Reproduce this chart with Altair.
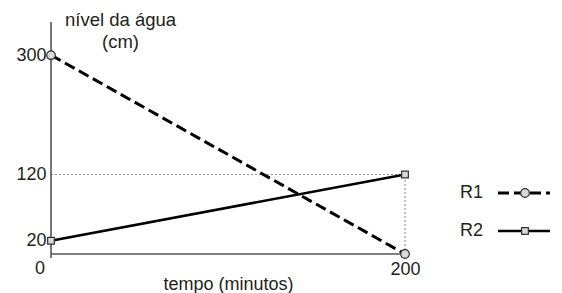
import altair as alt
import pandas as pd

# ---- data ----
times = [0, 200]
r1_values = [300, 0]
r2_values = [20, 120]
series = ["R1", "R2"]
y_tick_values = [20, 120, 300]
x_tick_values = [200]
x_title = "tempo (minutos)"
y_title = ["nível da água", "(cm)"]

FONT = "Liberation Sans"
TXT = "#231f20"
AXIS = "#555555"

df = pd.DataFrame({
    "t": times + times,
    "v": r1_values + r2_values,
    "s": [series[0]] * len(times) + [series[1]] * len(times),
})
guide_h = pd.DataFrame({"x0": [times[0]], "x1": [times[-1]], "y": [r2_values[-1]]})
guide_v = pd.DataFrame({"x": [times[-1]], "y0": [0], "y1": [r2_values[-1]]})
origin = pd.DataFrame({"t": [0], "v": [0], "lab": ["0"]})

W, H = 354, 232
xs = alt.Scale(domain=[0, 200], nice=False, zero=False)
ys = alt.Scale(domain=[0, 350], nice=False)

x_axis = alt.Axis(values=x_tick_values, domain=False, ticks=False, grid=False,
                  labelFontSize=18, labelFont=FONT, labelColor=TXT, labelPadding=6,
                  labelFlush=False, labelOverlap=False,
                  title=x_title, titleFont=FONT, titleFontSize=18, titleColor=TXT,
                  titleFontWeight="normal", titlePadding=-3)
y_axis = alt.Axis(values=y_tick_values, domain=False, ticks=False, grid=False,
                  labelFontSize=18, labelFont=FONT, labelColor=TXT, labelPadding=5,
                  labelFlush=False, labelOverlap=False,
                  title=y_title, titleFont=FONT, titleFontSize=18.5, titleColor=TXT,
                  titleFontWeight="normal", titleAngle=0, titleAlign="center",
                  titleBaseline="alphabetic", titleX=69, titleY=3, titleLineHeight=22)

base = alt.Chart(df)

gh = alt.Chart(guide_h).mark_rule(color="#8a8a8a", strokeWidth=1, strokeDash=[2, 2]).encode(
    x=alt.X("x0:Q", scale=xs, axis=x_axis), x2="x1:Q",
    y=alt.Y("y:Q", scale=ys, axis=y_axis))
gv = alt.Chart(guide_v).mark_rule(color="#8a8a8a", strokeWidth=1, strokeDash=[2, 2]).encode(
    x=alt.X("x:Q", scale=xs), y=alt.Y("y0:Q", scale=ys), y2="y1:Q")

yline = alt.Chart(guide_h).mark_rule(color=AXIS, strokeWidth=1.6).encode(
    x=alt.value(0), y=alt.value(0), y2=alt.value(H + 4))
xline = alt.Chart(guide_h).mark_rule(color=AXIS, strokeWidth=1.6).encode(
    x=alt.value(0), x2=alt.value(W), y=alt.value(H))

l1 = base.transform_filter(alt.datum.s == series[0]).mark_line(
    color="black", strokeWidth=3, strokeDash=[11, 5]).encode(
    x=alt.X("t:Q", scale=xs), y=alt.Y("v:Q", scale=ys))
l2 = base.transform_filter(alt.datum.s == series[1]).mark_line(
    color="black", strokeWidth=2.6).encode(
    x=alt.X("t:Q", scale=xs), y=alt.Y("v:Q", scale=ys))
p1 = base.transform_filter(alt.datum.s == series[0]).mark_point(
    shape="circle", filled=True, fill="#d9d9d9", stroke="#333333", strokeWidth=1.2,
    size=75, opacity=1).encode(x=alt.X("t:Q", scale=xs), y=alt.Y("v:Q", scale=ys))
p2 = base.transform_filter(alt.datum.s == series[1]).mark_point(
    shape="square", filled=True, fill="#d9d9d9", stroke="#333333", strokeWidth=1.2,
    size=45, opacity=1).encode(x=alt.X("t:Q", scale=xs), y=alt.Y("v:Q", scale=ys))

zero = alt.Chart(origin).mark_text(font=FONT, fontSize=18, color=TXT, dx=-11, dy=15).encode(
    x=alt.X("t:Q", scale=xs), y=alt.Y("v:Q", scale=ys), text="lab:N")

# ---- legend ----
leg = []
leg_y = [171, 209]
for i, name in enumerate(series):
    ld = pd.DataFrame({"s": [name]})
    c = alt.Chart(ld)
    leg.append(c.mark_text(font=FONT, fontSize=18, color=TXT, align="left", baseline="middle").encode(
        x=alt.value(409), y=alt.value(leg_y[i]), text="s:N"))
    leg.append(c.mark_rule(color="black", strokeWidth=2.6 if i else 3,
                           strokeDash=[1, 0] if i else [11, 5]).encode(
        x=alt.value(447), x2=alt.value(499), y=alt.value(leg_y[i])))
    leg.append(c.mark_point(shape="square" if i else "circle", filled=True, fill="#d9d9d9",
                            stroke="#333333", strokeWidth=1.2, size=45 if i else 75, opacity=1).encode(
        x=alt.value(474), y=alt.value(leg_y[i])))

chart = alt.layer(gh, gv, yline, xline, l1, l2, p1, p2, zero, *leg).properties(
    width=W, height=H,
    background="white",
    autosize=alt.AutoSizeParams(type="none"),
    padding={"left": 43, "top": 14, "right": 149, "bottom": 39},
).configure_view(stroke=None, strokeWidth=0)

chart.save("out.html", embed_options={"renderer": "svg", "actions": False})
